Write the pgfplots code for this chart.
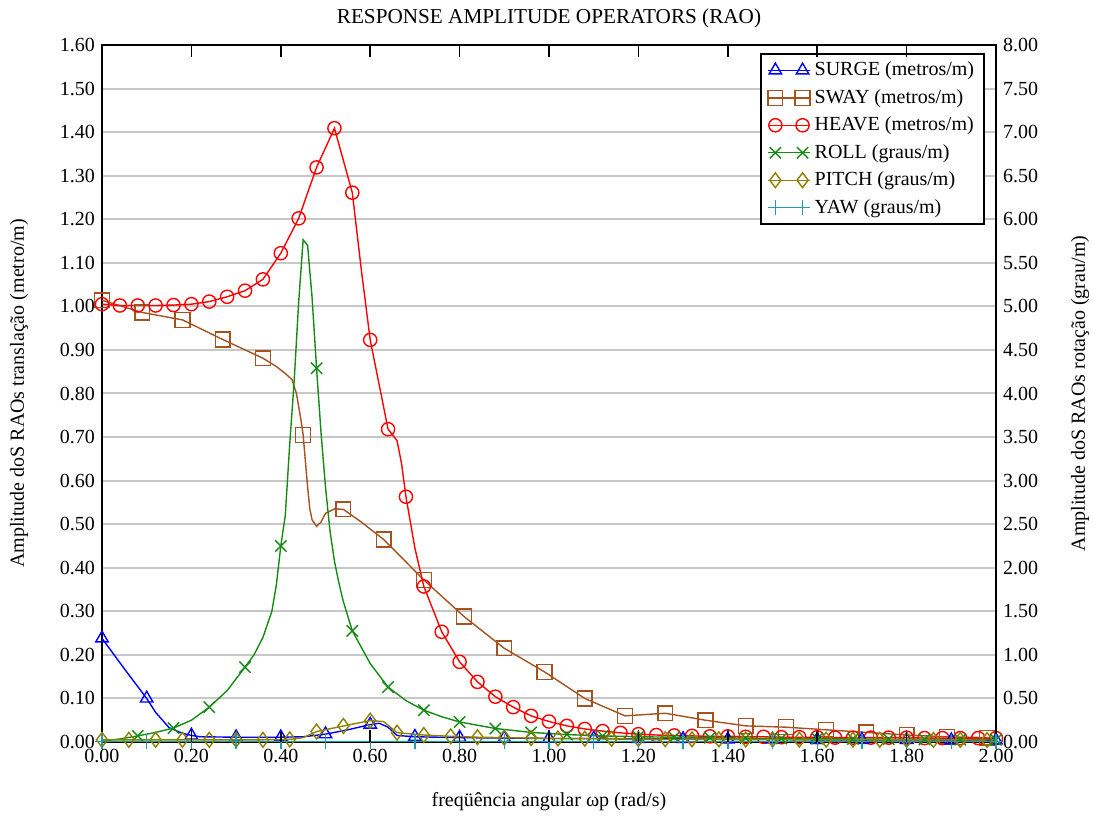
\documentclass[border=0pt]{standalone}
\usepackage{fontspec}
\setmainfont{Liberation Serif}
\usepackage{pgfplots}
\pgfplotsset{compat=1.18}
\usepackage{pgfplotstable}

\definecolor{csurge}{RGB}{0,0,255}
\definecolor{csway}{RGB}{165,82,30}
\definecolor{cheave}{RGB}{255,0,0}
\definecolor{croll}{RGB}{20,140,20}
\definecolor{cpitch}{RGB}{140,130,0}
\definecolor{cyaw}{RGB}{30,160,160}

\tikzset{
  rao/.style={line width=0.7pt, mark options={solid, line width=0.7pt, fill=none}},
  surge/.style={rao, color=csurge, mark=triangle, mark size=3.6pt},
  sway/.style={rao, color=csway, mark=square, mark size=3.7pt},
  heave/.style={rao, color=cheave, mark=o, mark size=3.3pt},
  roll/.style={rao, color=croll, mark=x, mark size=4pt},
  pitch/.style={rao, color=cpitch, mark=diamond, mark size=3.7pt},
  yaw/.style={rao, color=cyaw, mark=+, mark size=3.7pt},
}
\pgfplotsset{
  marks only/.style={only marks, forget plot,
    restrict expr to domain={\thisrow{m}}{0.5:1.5}},
  tick fmt/.style={/pgf/number format/.cd, fixed, fixed zerofill, precision=2},
}

% translations (metro/m), column m = 1 where a marker is drawn
\pgfplotstableread{
x y m
0.00 0.238 1
0.05 0.168 0
0.10 0.100 1
0.12 0.068 0
0.15 0.033 0
0.18 0.020 0
0.20 0.015 1
0.22 0.012 0
0.30 0.011 1
0.40 0.011 1
0.45 0.012 0
0.50 0.018 1
0.55 0.028 0
0.60 0.040 1
0.62 0.043 0
0.64 0.034 0
0.66 0.015 0
0.70 0.012 1
0.80 0.010 1
0.90 0.009 1
1.00 0.008 1
1.10 0.008 1
1.20 0.007 1
1.30 0.007 1
1.40 0.006 1
1.50 0.006 1
1.60 0.005 1
1.70 0.005 1
1.80 0.005 1
1.90 0.004 1
2.00 0.004 1
}\surgedata

\pgfplotstableread{
x y m
0.00 1.014 1
0.09 0.986 1
0.18 0.969 1
0.27 0.924 1
0.36 0.881 1
0.39 0.862 0
0.41 0.846 0
0.425 0.832 0
0.435 0.800 0
0.445 0.740 0
0.45 0.705 1
0.455 0.645 0
0.46 0.585 0
0.465 0.535 0
0.47 0.510 0
0.48 0.495 0
0.49 0.505 0
0.50 0.525 0
0.52 0.535 0
0.54 0.534 1
0.58 0.505 0
0.63 0.465 1
0.72 0.372 1
0.81 0.288 1
0.90 0.215 1
0.99 0.161 1
1.08 0.100 1
1.17 0.060 1
1.26 0.066 1
1.35 0.050 1
1.44 0.037 1
1.53 0.034 1
1.62 0.028 1
1.71 0.022 1
1.80 0.016 1
1.89 0.012 1
1.98 0.010 1
}\swaydata

\pgfplotstableread{
x y m
0.00 1.005 1
0.04 1.002 1
0.08 1.002 1
0.12 1.002 1
0.16 1.003 1
0.20 1.005 1
0.24 1.011 1
0.28 1.022 1
0.32 1.036 1
0.36 1.062 1
0.40 1.122 1
0.44 1.202 1
0.48 1.319 1
0.52 1.409 1
0.56 1.261 1
0.58 1.085 0
0.60 0.923 1
0.64 0.718 1
0.66 0.692 0
0.67 0.640 0
0.68 0.563 1
0.70 0.445 0
0.72 0.357 1
0.76 0.253 1
0.80 0.184 1
0.84 0.138 1
0.88 0.104 1
0.92 0.080 1
0.96 0.060 1
1.00 0.047 1
1.04 0.037 1
1.08 0.030 1
1.12 0.025 1
1.16 0.021 1
1.20 0.018 1
1.24 0.016 1
1.28 0.015 1
1.32 0.014 1
1.36 0.013 1
1.40 0.013 1
1.44 0.012 1
1.48 0.012 1
1.52 0.011 1
1.56 0.011 1
1.60 0.011 1
1.64 0.010 1
1.68 0.010 1
1.72 0.010 1
1.76 0.010 1
1.80 0.010 1
1.84 0.009 1
1.88 0.009 1
1.92 0.009 1
1.96 0.009 1
2.00 0.009 1
}\heavedata

% rotations (grau/m)
\pgfplotstableread{
x y m
0.00 0.010 0
0.04 0.035 0
0.08 0.070 1
0.12 0.110 0
0.16 0.160 1
0.20 0.250 0
0.24 0.400 1
0.28 0.590 0
0.32 0.860 1
0.34 1.000 0
0.36 1.200 0
0.38 1.500 0
0.39 1.800 0
0.40 2.250 1
0.41 2.600 0
0.42 3.420 0
0.43 4.150 0
0.44 5.050 0
0.45 5.765 0
0.46 5.700 0
0.47 5.100 0
0.48 4.290 1
0.49 3.550 0
0.50 2.925 0
0.51 2.425 0
0.52 2.075 0
0.53 1.825 0
0.54 1.610 0
0.56 1.275 1
0.60 0.900 0
0.64 0.630 1
0.68 0.475 0
0.72 0.365 1
0.76 0.290 0
0.80 0.230 1
0.88 0.155 1
0.96 0.110 1
1.04 0.085 1
1.12 0.070 1
1.20 0.060 1
1.28 0.055 1
1.36 0.050 1
1.44 0.045 1
1.52 0.040 1
1.60 0.038 1
1.68 0.035 1
1.76 0.032 1
1.84 0.030 1
1.92 0.028 1
2.00 0.025 1
}\rolldata

\pgfplotstableread{
x y m
0.00 0.025 1
0.06 0.025 1
0.12 0.025 1
0.18 0.025 1
0.24 0.025 1
0.30 0.025 1
0.36 0.025 1
0.42 0.030 1
0.45 0.050 0
0.48 0.120 1
0.54 0.184 1
0.60 0.245 1
0.63 0.235 0
0.66 0.107 1
0.72 0.080 1
0.78 0.065 1
0.84 0.055 1
0.90 0.050 1
0.96 0.045 1
1.02 0.040 1
1.08 0.038 1
1.14 0.036 1
1.20 0.034 1
1.26 0.032 1
1.32 0.031 1
1.38 0.030 1
1.44 0.029 1
1.50 0.028 1
1.56 0.027 1
1.62 0.026 1
1.68 0.026 1
1.74 0.025 1
1.80 0.025 1
1.86 0.024 1
1.92 0.024 1
1.98 0.023 1
}\pitchdata

\pgfplotstableread{
x y m
0.00 0.005 1
0.10 0.005 1
0.20 0.005 1
0.30 0.005 1
0.40 0.005 1
0.50 0.005 1
0.60 0.006 1
0.70 0.005 1
0.80 0.005 1
0.90 0.005 1
1.00 0.005 1
1.10 0.005 1
1.20 0.005 1
1.30 0.005 1
1.40 0.005 1
1.50 0.005 1
1.60 0.005 1
1.70 0.005 1
1.80 0.005 1
1.90 0.005 1
2.00 0.005 1
}\yawdata

\begin{document}
\begin{tikzpicture}
\begin{axis}[
  at={(0,0)}, anchor=south west,
  scale only axis, width=447pt, height=348.5pt,
  xmin=0, xmax=2, ymin=0, ymax=1.6,
  xtick={0,0.2,0.4,0.6,0.8,1.0,1.2,1.4,1.6,1.8,2.0},
  ytick={0,0.1,0.2,0.3,0.4,0.5,0.6,0.7,0.8,0.9,1.0,1.1,1.2,1.3,1.4,1.5,1.6},
  xtick align=inside,
  major tick length=6pt,
  ytick style={draw=none},
  xtick style={draw=black, line width=0.8pt},
  ymajorgrids, major grid style={black!22, line width=1pt},
  axis line style={black, line width=0.9pt},
  /pgf/number format/assume math mode=true,
  xticklabel style={tick fmt},
  yticklabel style={tick fmt},
  xlabel={freqüência angular ωp (rad/s)},
  xlabel style={at={(axis description cs:0.5,-0.0861)}, anchor=center},
  ylabel={Amplitude doS RAOs translação (metro/m)},
  ylabel style={at={(axis description cs:-0.0928,0.5)}, anchor=center},
]
\addplot[sway, mark=none, forget plot] table[x=x,y=y] {\swaydata};
\addplot[sway, marks only] table[x=x,y=y] {\swaydata};
\addplot[heave, mark=none, forget plot] table[x=x,y=y] {\heavedata};
\addplot[heave, marks only] table[x=x,y=y] {\heavedata};
\addplot[surge, mark=none, forget plot] table[x=x,y=y] {\surgedata};
\addplot[surge, marks only] table[x=x,y=y] {\surgedata};
\end{axis}

\begin{axis}[
  at={(0,0)}, anchor=south west,
  scale only axis, width=447pt, height=348.5pt,
  xmin=0, xmax=2, ymin=0, ymax=8,
  axis x line=none, axis y line*=right,
  ytick={0,0.5,1,1.5,2,2.5,3,3.5,4,4.5,5,5.5,6,6.5,7,7.5,8},
  ytick style={draw=none},
  axis line style={black, line width=0.9pt},
  /pgf/number format/assume math mode=true,
  yticklabel style={tick fmt},
  ylabel={Amplitude doS RAOs rotação (grau/m)},
  ylabel style={at={(axis description cs:1.094,0.5)}, anchor=center},
  legend cell align=left,
  legend image code/.code={
    \draw[#1] (0pt,0pt) -- (21pt,0pt);
    \draw[#1, only marks] plot coordinates {(3.7pt,0pt) (17.3pt,0pt)};
  },
  legend style={at={(axis description cs:1,1)}, anchor=north east,
    xshift=-5.5pt, yshift=-4pt, draw=black, line width=0.9pt,
    row sep=1.3pt, inner xsep=3pt, inner ysep=2pt},
]
\addlegendimage{surge}
\addlegendentry{SURGE (metros/m)}
\addlegendimage{sway}
\addlegendentry{SWAY (metros/m)}
\addlegendimage{heave}
\addlegendentry{HEAVE (metros/m)}
\addlegendimage{roll}
\addlegendentry{ROLL (graus/m)}
\addlegendimage{pitch}
\addlegendentry{PITCH (graus/m)}
\addlegendimage{yaw}
\addlegendentry{YAW (graus/m)}
\addplot[roll, mark=none, forget plot] table[x=x,y=y] {\rolldata};
\addplot[roll, marks only] table[x=x,y=y] {\rolldata};
\addplot[pitch, mark=none, forget plot] table[x=x,y=y] {\pitchdata};
\addplot[pitch, marks only] table[x=x,y=y] {\pitchdata};
\addplot[yaw, mark=none, forget plot] table[x=x,y=y] {\yawdata};
\addplot[yaw, marks only] table[x=x,y=y] {\yawdata};
\end{axis}
% tick marks on the frame, every 0.2 on x
\foreach \k in {1,...,9} {
  \draw[black, line width=0.8pt] (44.7pt*\k,348.5pt) -- ++(0,-6pt);
  \draw[black, line width=0.8pt] (44.7pt*\k,0pt) -- ++(0,5pt);
}
\node[anchor=center, inner sep=0pt, font=\fontsize{10.6}{12}\selectfont]
  at (223.5pt,362pt) {RESPONSE AMPLITUDE OPERATORS (RAO)};
\pgfresetboundingbox
\path[use as bounding box] (-51pt,-38pt) rectangle (495.5pt,371pt);
\end{tikzpicture}
\end{document}
